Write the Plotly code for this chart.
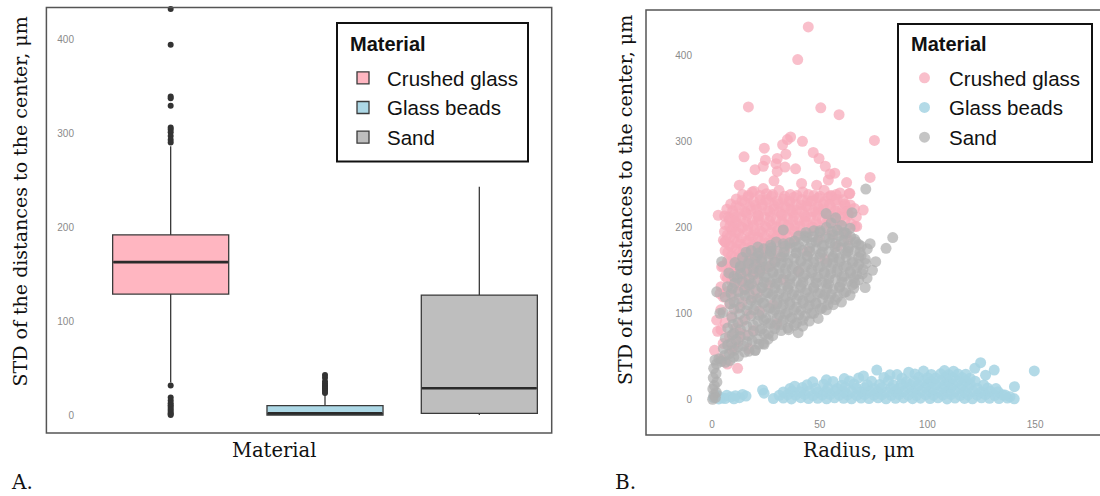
import plotly.graph_objects as go

W, H = 1100, 496


def pxx(x):
    return x / W


def pxy(y):
    return 1 - y / H


# ---------------- data ----------------
materials = ["Crushed glass", "Glass beads", "Sand"]
legend_title_text = "Material"

# panel A: box statistics
box_lowerfence = [35, 0.3, 0.5]
box_q1 = [129, 0.5, 2.3]
box_median = [163, 2.3, 29]
box_q3 = [192, 10.4, 128]
box_upperfence = [286, 22, 243]

crushed_outliers = [432, 394, 339, 337, 329, 306, 304, 301, 297, 293, 290,
                    32, 19, 16, 13, 11, 9, 7, 5, 3, 1.5, 0.5]
beads_outliers = [43, 40, 36, 34, 32, 31, 30, 29, 28, 26, 24]
sand_outliers = []

y_ticks = [0, 100, 200, 300, 400]
x_ticks_b = [0, 50, 100, 150]

# panel B: (radius, std) points
crushed_pts = [
    (44.7, 433), (39.8, 395), (16.9, 340), (50.5, 339), (59.0, 331), (75.4, 301), (36.5, 305), (35.0, 302),
    (42.0, 300), (24.3, 292), (14.9, 282), (32.8, 296), (34.3, 285), (24.8, 278), (30.3, 280), (29.7, 274),
    (23.8, 271), (33.9, 270), (38.8, 268), (47.0, 287), (49.7, 280), (52.6, 271), (20.0, 267), (30.3, 265),
    (54.8, 262), (57.0, 263), (54.0, 255), (28.8, 254), (62.5, 252), (73.4, 258), (12.7, 249), (41.6, 251),
    (48.6, 249),
    (18.7, 241), (23.8, 245), (59.4, 240), (63.7, 239), (54.0, 235), (61.7, 227), (70.2, 220), (67.2, 201),
    (2.9, 214), (7.6, 212), (6.0, 183), (4.5, 154), (9.9, 201), (3.7, 123), (2.2, 92), (2.6, 79), (1.2, 57),
    (13.0, 77), (11.9, 36), (9.9, 61), (62.5, 193), (63.3, 216), (67.0, 212), (66.4, 201), (64.0, 239.5),
    (14.2, 238), (19.5, 242), (25.3, 239), (31.1, 243), (36.4, 238), (42.2, 241), (47.3, 237), (52.1, 243), (57.6, 238),
    (11.3, 233), (16.8, 235), (22.4, 232), (27.6, 236), (33.2, 233), (38.1, 235), (44.3, 231), (49.2, 234), (55.4, 236), (60.8, 232),
    (8.7, 227), (15.2, 229), (20.1, 226), (26.3, 230), (30.8, 227), (36.2, 229), (41.4, 226), (46.1, 230), (51.7, 227), (57.3, 229), (64.2, 226),
    (6.9, 221), (12.8, 223), (18.2, 220), (23.1, 224), (28.7, 221), (34.3, 223), (39.2, 220), (44.1, 224), (49.6, 221), (55.2, 223), (60.3, 220), (66.1, 222),
    (10.4, 215), (15.7, 217), (21.3, 214), (26.8, 218), (32.2, 215), (37.4, 217), (42.9, 214), (48.1, 218), (53.3, 215), (58.2, 217), (63.1, 214),
    (8.1, 209), (13.4, 211), (18.8, 208), (24.2, 212), (29.7, 209), (35.1, 211), (40.3, 208), (45.8, 212), (51.2, 209), (56.4, 211), (61.7, 208),
    (6.2, 203), (11.3, 205), (16.7, 202), (22.1, 206), (27.8, 203), (33.2, 205), (38.4, 202), (43.7, 206), (49.1, 203), (54.2, 205), (59.8, 202), (64.6, 204),
    (9.2, 197), (14.3, 199), (19.8, 196), (25.2, 200), (30.7, 197), (36.1, 199), (41.2, 196), (46.8, 200), (52.1, 197), (57.7, 199),
    (7.1, 191), (12.3, 193), (17.8, 190), (23.2, 194), (28.6, 191), (34.1, 193), (39.3, 190), (44.7, 194), (55.8, 191), (61.2, 193),
    (5.3, 185), (10.2, 187), (15.8, 184), (21.3, 188), (26.7, 185), (32.1, 187), (37.8, 184), (49.7, 188), (63.2, 185),
    (8.2, 179), (13.1, 181), (18.7, 178), (24.3, 182), (29.8, 179), (35.7, 181), (58.3, 178),
    (6.1, 173), (11.2, 175), (16.8, 172), (22.3, 176), (27.6, 173), (33.8, 175), (44.2, 172),
    (9.1, 167), (14.2, 169), (19.7, 166), (25.8, 170), (31.2, 167),
    (7.2, 161), (12.1, 163), (17.3, 160), (22.8, 164), (28.7, 161), (52.3, 163),
    (5.1, 155), (10.3, 157), (15.2, 154), (20.8, 158), (27.1, 155),
    (8.3, 149), (13.2, 151), (18.8, 148), (24.9, 152), (40.2, 149),
    (6.2, 143), (11.1, 145), (16.3, 142), (21.8, 146),
    (9.1, 137), (14.3, 139), (19.7, 136), (33.2, 139),
    (4.2, 131), (12.1, 133), (17.3, 130), (26.2, 133),
    (7.1, 125), (15.2, 127), (21.3, 124),
    (5.2, 119), (10.1, 121), (18.8, 118),
    (8.2, 111), (14.1, 113), (28.3, 110),
    (4.1, 104), (12.2, 106), (22.1, 103),
    (9.1, 97), (17.2, 99),
    (6.1, 89), (14.2, 91), (30.1, 88),
    (4.2, 81), (11.1, 83), (19.2, 80),
    (8.1, 73), (15.2, 75),
    (5.2, 65), (12.1, 67),
    (9.2, 57), (17.1, 59),
    (4.1, 47), (7.2, 41),
    (16.9, 237), (22.3, 237), (28.2, 238), (33.7, 236), (39.4, 237), (44.8, 238), (50.1, 236), (55.2, 237),
    (13.9, 231), (19.3, 230), (25.1, 232), (30.4, 231), (35.8, 230), (41.7, 232), (46.9, 231), (52.4, 230), (58.1, 232),
    (11.2, 225), (17.6, 224), (23.4, 226), (28.8, 225), (33.6, 224), (38.9, 226), (43.7, 225), (49.1, 224), (54.6, 226), (61.8, 225),
    (9.6, 219), (15.1, 218), (20.8, 220), (25.9, 219), (31.4, 218), (36.7, 220), (41.8, 219), (46.9, 218), (51.8, 220), (57.3, 219), (62.6, 218),
    (5.9, 213), (11.2, 212), (16.3, 214), (21.7, 213), (27.3, 212), (32.6, 214), (38.1, 213), (43.4, 212), (48.7, 214), (54.2, 213), (59.6, 212),
    (10.6, 207), (15.8, 206), (21.2, 208), (26.7, 207), (32.3, 206), (37.6, 208), (42.9, 207), (48.3, 206), (53.7, 208), (58.9, 207),
    (8.3, 201), (13.7, 200), (19.2, 202), (24.6, 201), (30.1, 200), (35.4, 202), (40.9, 201), (46.2, 200),
    (5.8, 195), (11.1, 194), (16.6, 196), (22.2, 195), (27.4, 194), (32.9, 196), (38.2, 195),
    (8.4, 189), (13.6, 188), (19.1, 190), (24.5, 189), (29.8, 188), (35.2, 190),
    (6.3, 183), (11.5, 182), (16.9, 184), (22.1, 183), (27.3, 182), (33.1, 184),
    (9.2, 177), (14.7, 176), (20.1, 178), (25.8, 177),
    (7.4, 171), (12.6, 170), (17.9, 172), (23.4, 171),
    (10.2, 165), (15.4, 164), (20.9, 166),
    (7.8, 159), (13.1, 158), (18.3, 160),
    (10.6, 153), (16.1, 152), (22.4, 154),
    (8.9, 147), (14.2, 146), (19.6, 148),
    (7.1, 141), (12.8, 140),
    (10.4, 135), (16.2, 134),
    (9.3, 128), (13.9, 129),
]

beads_pts = [
    (0.8, 2.0), (2.9, 4.1), (4.8, 1.5), (6.9, 4.6), (8.8, 2.7), (10.9, 4.2), (12.8, 1.9), (14.2, 5.6),
    (6.1, 0.8), (10.2, 0.6), (15.8, 3.8), (3.2, 0.4), (23.5, 10.8), (24.2, 7.1),
    (28.5, 0.8), (33.1, 1.5), (36.9, 0.4), (41.2, 1.9), (44.8, 0.9), (49.1, 1.2), (53.2, 0.5), (56.9, 1.7),
    (61.1, 1.1), (64.8, 0.6), (69.2, 1.4), (72.9, 0.9), (77.1, 1.8), (80.8, 0.5), (85.2, 1.2), (88.9, 1.6),
    (93.1, 0.7), (96.8, 1.3), (101.2, 0.9), (104.9, 1.8), (109.1, 0.4), (112.8, 1.5), (117.2, 1.0), (120.9, 0.6),
    (125.1, 1.7), (128.8, 1.1), (133.2, 0.8), (137.1, 1.4), (140.3, 0.5),
    (31.2, 4.6), (35.1, 5.3), (38.8, 4.9), (43.1, 5.6), (46.9, 4.4), (51.2, 5.1), (54.8, 5.7), (59.1, 4.8),
    (62.9, 5.2), (67.2, 4.5), (70.8, 5.5), (75.1, 4.9), (78.9, 5.3), (83.2, 4.7), (86.8, 5.6), (91.1, 5.0),
    (94.9, 4.6), (99.2, 5.4), (102.8, 4.8), (107.1, 5.2), (110.9, 5.7), (115.2, 4.5), (118.8, 5.1), (123.1, 4.9),
    (126.9, 5.5), (131.2, 4.7), (134.8, 5.2),
    (33.1, 8.6), (37.2, 9.4), (40.8, 8.9), (45.1, 9.7), (49.2, 8.5), (52.9, 9.2), (57.1, 9.8), (61.2, 8.7),
    (64.8, 9.3), (69.1, 8.8), (73.2, 9.6), (76.9, 9.0), (81.1, 8.6), (85.2, 9.5), (88.8, 9.1), (93.1, 8.7),
    (97.2, 9.4), (100.9, 9.9), (105.1, 8.8), (109.2, 9.3), (112.8, 9.6), (117.1, 8.9), (121.2, 9.2), (124.9, 8.6),
    (129.1, 9.5), (132.8, 8.8),
    (36.2, 12.4), (41.9, 13.6), (48.1, 12.8), (53.8, 13.3), (58.2, 12.6), (61.9, 13.9), (67.1, 12.9), (70.8, 13.4),
    (75.2, 12.5), (78.9, 13.7), (83.1, 13.1), (86.8, 12.7), (91.2, 13.5), (94.9, 12.9), (99.1, 13.8), (102.8, 12.6),
    (107.2, 13.2), (110.9, 13.9), (115.1, 12.8), (118.8, 13.4), (123.2, 12.7), (127.9, 13.1), (131.8, 12.5),
    (44.1, 16.8), (51.8, 17.5), (60.2, 16.4), (65.9, 17.8), (72.1, 16.9), (77.8, 17.3), (84.2, 16.6), (87.9, 17.7),
    (92.1, 17.1), (95.8, 16.5), (100.2, 17.9), (103.9, 17.2), (108.1, 16.7), (111.8, 17.6), (116.2, 16.9), (119.9, 17.4),
    (126.1, 16.6),
    (56.2, 20.7), (63.8, 21.4), (74.1, 20.9), (81.9, 21.6), (90.2, 20.5), (93.8, 21.2), (98.1, 21.8), (101.9, 20.8),
    (106.2, 21.5), (109.8, 20.6), (114.1, 21.3), (117.9, 21.7), (122.2, 20.9),
    (68.1, 24.8), (79.8, 25.4), (88.2, 24.6), (95.9, 25.7), (100.1, 25.1), (103.8, 24.7), (108.2, 25.5), (111.9, 24.9),
    (116.1, 25.3), (119.8, 24.6),
    (85.9, 28.7), (94.2, 29.4), (101.8, 28.9), (106.1, 29.6), (109.9, 28.8), (114.2, 29.3), (117.8, 29.1),
    (98.2, 32.8), (107.9, 33.4), (112.1, 32.6),
    (76.5, 34.0), (124.7, 42.6), (131.0, 34.0), (149.6, 33.0), (140.4, 14.7), (138.3, 3.0), (136.0, 5.0),
    (127.0, 28.0), (122.0, 36.0),
    (38.4, 15.2), (46.8, 20.3), (53.1, 22.6), (61.4, 24.1), (70.3, 27.2), (82.6, 28.4), (91.3, 31.5),
]

sand_pts = [
    (57.4, 211), (65.0, 217), (53.0, 216),
    (55.3, 205), (60.2, 202),
    (33.1, 197), (47.3, 196), (53.1, 200), (58.2, 197), (64.1, 199),
    (43.2, 190), (50.1, 194), (56.3, 191), (62.2, 193),
    (38.3, 184), (44.1, 188), (49.2, 185), (54.3, 187), (60.1, 184), (66.2, 186),
    (27.2, 179), (33.1, 181), (40.3, 178), (46.2, 182), (52.1, 179), (57.3, 181), (63.2, 178), (68.1, 180),
    (18.2, 173), (24.1, 175), (30.3, 172), (36.2, 176), (42.1, 173), (48.3, 175), (54.2, 172), (60.1, 176), (66.3, 173), (72.1, 175),
    (21.2, 167), (27.1, 169), (33.3, 166), (39.2, 170), (44.1, 167), (50.3, 169), (56.2, 166), (62.1, 170), (69.2, 167),
    (17.1, 161), (23.2, 163), (29.1, 160), (35.3, 164), (41.2, 161), (47.1, 163), (53.3, 160), (59.2, 164), (65.1, 161), (71.2, 163),
    (13.2, 155), (20.1, 157), (26.3, 154), (32.2, 158), (38.1, 155), (44.3, 157), (50.2, 154), (56.1, 158), (62.3, 155), (68.2, 157),
    (16.1, 149), (22.3, 151), (28.2, 148), (34.1, 152), (40.3, 149), (46.2, 151), (52.1, 148), (58.3, 152), (64.2, 149), (70.1, 151),
    (10.2, 143), (19.1, 145), (25.3, 142), (31.2, 146), (37.1, 143), (43.3, 145), (49.2, 142), (55.1, 146), (61.3, 143), (67.2, 145),
    (14.1, 137), (21.3, 139), (27.2, 136), (33.1, 140), (39.3, 137), (45.2, 139), (51.1, 136), (57.3, 140), (63.2, 137), (68.1, 139),
    (7.2, 131), (17.1, 133), (23.3, 130), (29.2, 134), (35.1, 131), (41.3, 133), (47.2, 130), (53.1, 134), (59.3, 131), (65.2, 133), (71.1, 130),
    (12.3, 125), (20.2, 127), (26.1, 124), (32.3, 128), (38.2, 125), (44.1, 127), (50.3, 124), (56.2, 128), (62.1, 125),
    (6.1, 119), (15.3, 121), (22.2, 118), (28.1, 122), (34.3, 119), (40.2, 121), (46.1, 118), (52.3, 122), (58.2, 119), (64.1, 121),
    (10.3, 113), (18.2, 115), (24.1, 112), (30.3, 116), (36.2, 113), (42.1, 115), (48.3, 112), (54.2, 116), (60.1, 113),
    (13.1, 107), (20.3, 109), (27.2, 106), (33.1, 110), (39.3, 107), (45.2, 109), (51.1, 106), (56.3, 110),
    (5.2, 101), (16.1, 103), (23.3, 100), (29.2, 104), (35.1, 101), (41.3, 103), (47.2, 100), (53.1, 104),
    (9.3, 95), (18.2, 97), (25.1, 94), (31.3, 98), (37.2, 95), (43.1, 97), (49.3, 94),
    (12.1, 89), (21.3, 91), (27.2, 88), (33.1, 92), (39.3, 89), (45.2, 91),
    (7.3, 83), (16.2, 85), (23.1, 82), (29.3, 86), (35.2, 83), (42.1, 85),
    (10.2, 77), (19.3, 79), (26.2, 76), (32.1, 80),
    (6.2, 71), (13.1, 73), (21.3, 70), (28.2, 74),
    (9.1, 65), (16.3, 67), (24.2, 64),
    (5.3, 59), (12.2, 61), (20.1, 57),
    (8.1, 53), (15.2, 55),
    (3.2, 47), (10.1, 49),
    (2.1, 41), (6.2, 43),
    (0.8, 36), (1.9, 30), (0.6, 25), (2.3, 20), (1.1, 16), (0.4, 12), (2.0, 8), (0.9, 5), (1.6, 2), (0.3, 0),
    (71.4, 244.5), (73.4, 181), (80.8, 175.5), (83.9, 188), (40.0, 77.5), (76.0, 160), (74.5, 150), (72.0, 141),
    (2.2, 125), (4.5, 160), (3.7, 100), (1.4, 45.7), (23.8, 65), (20.0, 57),
    (43.6, 194), (50.2, 196), (55.8, 195), (61.4, 194),
    (40.2, 190), (46.7, 189), (52.8, 188), (58.9, 190), (64.3, 189),
    (29.8, 183), (36.1, 182), (42.6, 184), (48.4, 183), (54.9, 182), (61.2, 184), (66.8, 183),
    (21.3, 177), (27.4, 176), (33.8, 178), (39.1, 177), (45.2, 176), (51.3, 178), (57.1, 177), (63.4, 176), (69.3, 178),
    (15.8, 171), (21.6, 170), (27.2, 172), (33.4, 171), (39.1, 170), (45.4, 172), (51.2, 171), (57.3, 170), (63.1, 172), (68.7, 171),
    (14.2, 165), (20.1, 164), (26.3, 166), (32.1, 165), (38.2, 164), (44.3, 166), (50.1, 165), (56.2, 164), (62.3, 166), (68.1, 165),
    (10.7, 159), (16.9, 158), (23.2, 160), (29.3, 159), (35.1, 158), (41.2, 160), (47.3, 159), (53.1, 158), (59.2, 160), (65.3, 159), (71.4, 158),
    (13.1, 153), (19.2, 152), (25.1, 154), (31.3, 153), (37.2, 152), (43.1, 154), (49.3, 153), (55.2, 152), (61.1, 154), (67.2, 153),
    (7.8, 147), (13.4, 146), (22.1, 148), (28.3, 147), (34.2, 146), (40.1, 148), (46.3, 147), (52.2, 146), (58.1, 148), (64.3, 147), (69.8, 146),
    (11.8, 141), (17.2, 140), (24.3, 142), (30.1, 141), (36.2, 140), (42.3, 142), (48.1, 141), (54.2, 140), (60.3, 142), (65.9, 141),
    (10.6, 135), (18.3, 134), (24.2, 136), (30.3, 135), (36.1, 134), (42.2, 136), (48.3, 135), (54.1, 134), (60.2, 136), (66.3, 135),
    (9.4, 129), (15.2, 128), (23.1, 130), (29.2, 129), (35.3, 128), (41.1, 130), (47.2, 129), (53.3, 128), (59.1, 130), (65.8, 129),
    (8.9, 123), (17.3, 122), (25.2, 124), (31.1, 123), (37.3, 122), (43.2, 124), (49.1, 123), (55.3, 122), (61.2, 124),
    (12.6, 117), (21.2, 116), (27.1, 118), (33.3, 117), (39.2, 116), (45.1, 118), (51.3, 117), (57.2, 116),
    (8.4, 111), (16.7, 110), (23.6, 112), (30.2, 111), (36.1, 110), (42.3, 112), (48.2, 111), (53.8, 110),
    (10.1, 105), (19.4, 104), (26.3, 106), (32.2, 105), (38.1, 104), (44.3, 106), (50.2, 105),
    (12.8, 99), (21.7, 98), (28.2, 100), (34.1, 99), (40.3, 98), (46.2, 100),
    (15.3, 93), (24.1, 92), (30.2, 94), (36.3, 93), (42.1, 92),
    (9.8, 87), (19.2, 86), (26.1, 88), (32.3, 87), (38.2, 86),
    (13.2, 81), (22.4, 80), (29.1, 82), (35.6, 81),
    (9.4, 75), (16.8, 74), (24.3, 76),
    (11.2, 69), (18.7, 68), (26.1, 70),
    (7.3, 63), (14.6, 62), (21.8, 64),
    (10.4, 57), (17.2, 56),
    (5.9, 51), (12.3, 50),
    (4.4, 44), (8.3, 45),
]

# ---------------- styles ----------------
box_fill = ["#FFB6C1", "#ADD8E6", "#BEBEBE"]
pt_color = ["#F7A9BA", "#A6D4E3", "#AFAFAF"]
pt_opacity = [0.75, 0.85, 0.72]
serif = "DejaVu Serif"
sans = "Liberation Sans"

fig = go.Figure()

# ---- panel A ----
outliers = [crushed_outliers, beads_outliers, sand_outliers]
for i, m in enumerate(materials):
    fig.add_trace(go.Box(
        x=[m], q1=[box_q1[i]], median=[box_median[i]], q3=[box_q3[i]],
        lowerfence=[box_lowerfence[i]], upperfence=[box_upperfence[i]],
        name=m, fillcolor=box_fill[i], line=dict(color="#3a3a3a", width=1.3),
        width=0.752, whiskerwidth=0, boxpoints=False,
        legendgroup=m, legend="legend", xaxis="x", yaxis="y", hoverinfo="skip",
    ))
for i, m in enumerate(materials):
    # thick median bar
    fig.add_trace(go.Box(
        x=[m], q1=[box_median[i]], median=[box_median[i]], q3=[box_median[i]],
        lowerfence=[box_median[i]], upperfence=[box_median[i]],
        fillcolor="rgba(0,0,0,0)", line=dict(color="#2a2a2a", width=2.6),
        width=0.742, whiskerwidth=0, boxpoints=False, showlegend=False,
        xaxis="x", yaxis="y", hoverinfo="skip",
    ))
    if outliers[i]:
        fig.add_trace(go.Scatter(
            x=[m] * len(outliers[i]), y=outliers[i], mode="markers",
            marker=dict(color="#333333", size=6), showlegend=False,
            cliponaxis=False, xaxis="x", yaxis="y", hoverinfo="skip",
        ))

# ---- panel B ----
pts = [crushed_pts, beads_pts, sand_pts]
for i, m in enumerate(materials):
    fig.add_trace(go.Scatter(
        x=[p[0] for p in pts[i]], y=[p[1] for p in pts[i]], mode="markers",
        name=m, marker=dict(color=pt_color[i], size=11, opacity=pt_opacity[i], line=dict(width=0)),
        legendgroup="b" + m, legend="legend2", xaxis="x2", yaxis="y2", hoverinfo="skip",
    ))

tickfont = dict(family=sans, size=10, color="#8a8a8a")
axis_common = dict(showgrid=False, zeroline=False, showline=False, ticks="")
legend_common = dict(xanchor="left", yanchor="top", bgcolor="rgba(0,0,0,0)",
                     bordercolor="rgba(0,0,0,0)", borderwidth=2,
                     font=dict(family=sans, size=20.5, color="#111"),
                     traceorder="grouped", tracegroupgap=0)

fig.update_layout(
    width=W, height=H, margin=dict(l=0, r=0, t=0, b=0),
    paper_bgcolor="white", plot_bgcolor="white", boxmode="overlay",
    xaxis=dict(domain=[pxx(75), pxx(551.7)], anchor="y", type="category",
               categoryorder="array", categoryarray=materials,
               range=[-0.620, 2.469], showticklabels=False, **axis_common),
    yaxis=dict(domain=[pxy(433), pxy(7.5)], anchor="x", range=[-18.6, 433.5],
               tickvals=y_ticks, tickfont=tickfont, **axis_common),
    xaxis2=dict(domain=[pxx(693), 1.0], anchor="y2", range=[-8.8, 180.1],
                tickvals=x_ticks_b, tickfont=tickfont, **axis_common),
    yaxis2=dict(domain=[pxy(417), pxy(10)], anchor="x2", range=[-20.6, 452.7],
                tickvals=y_ticks, tickfont=tickfont, **axis_common),
    legend=dict(x=pxx(337), y=pxy(56), itemwidth=38, **legend_common),
    legend2=dict(x=pxx(898), y=pxy(56), itemwidth=39, **legend_common),
    shapes=[
        dict(type="rect", xref="paper", yref="paper", x0=pxx(46.4), x1=pxx(551.7), y0=pxy(433), y1=pxy(7.5),
             line=dict(color="#555555", width=1.5), layer="above"),
        dict(type="rect", xref="paper", yref="paper", x0=pxx(646), x1=1.02, y0=pxy(435), y1=pxy(10),
             line=dict(color="#555555", width=1.5), layer="above"),
        # legend frames
        dict(type="rect", xref="paper", yref="paper", x0=pxx(337), x1=pxx(528), y0=pxy(161.5), y1=pxy(23),
             line=dict(color="#111111", width=2), fillcolor="white", layer="above"),
        dict(type="rect", xref="paper", yref="paper", x0=pxx(898), x1=pxx(1092), y0=pxy(162), y1=pxy(24),
             line=dict(color="#111111", width=2), fillcolor="white", layer="above"),
    ],
    annotations=[
        dict(text="<b>" + legend_title_text + "</b>", x=pxx(347.5), y=pxy(44), xref="paper", yref="paper",
             showarrow=False, xanchor="left", yanchor="middle", font=dict(family=sans, size=20, color="#111")),
        dict(text="<b>" + legend_title_text + "</b>", x=pxx(909), y=pxy(44), xref="paper", yref="paper",
             showarrow=False, xanchor="left", yanchor="middle", font=dict(family=sans, size=20, color="#111")),
        dict(text="STD of the distances to the center, μm", x=pxx(19.5), y=pxy(202), xref="paper", yref="paper",
             textangle=-90, showarrow=False, xanchor="center", yanchor="middle",
             font=dict(family=serif, size=19, color="#111")),
        dict(text="STD of the distances to the center, μm", x=pxx(625), y=pxy(200), xref="paper", yref="paper",
             textangle=-90, showarrow=False, xanchor="center", yanchor="middle",
             font=dict(family=serif, size=19, color="#111")),
        dict(text="Material", x=pxx(274), y=pxy(450), xref="paper", yref="paper", showarrow=False,
             xanchor="center", yanchor="middle", font=dict(family=serif, size=19.5, color="#111")),
        dict(text="Radius, μm", x=pxx(859), y=pxy(450), xref="paper", yref="paper", showarrow=False,
             xanchor="center", yanchor="middle", font=dict(family=serif, size=19.5, color="#111")),
        dict(text="A.", x=pxx(22), y=pxy(482), xref="paper", yref="paper", showarrow=False,
             xanchor="center", yanchor="middle", font=dict(family=serif, size=20, color="#111")),
        dict(text="B.", x=pxx(625), y=pxy(482), xref="paper", yref="paper", showarrow=False,
             xanchor="center", yanchor="middle", font=dict(family=serif, size=20, color="#111")),
    ],
)

fig.write_html("out.html")
